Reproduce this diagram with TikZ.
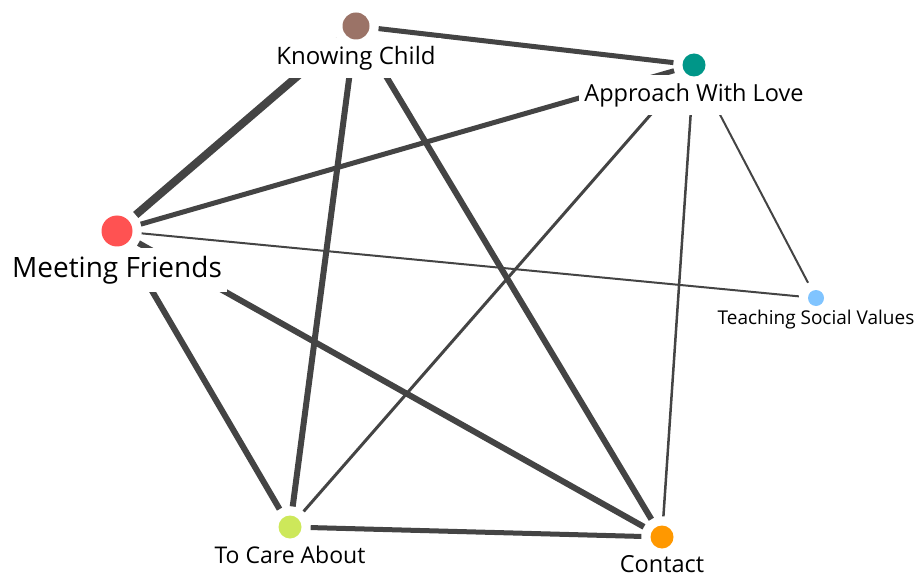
\documentclass[tikz,border=0pt]{standalone}
\usepackage{fontspec}
\setmainfont{Open Sans}
\usepackage{xcolor}
\definecolor{myBrown}{RGB}{155,115,103}
\definecolor{myTeal}{RGB}{0,150,136}
\definecolor{myRed}{RGB}{255,82,82}
\definecolor{myBlue}{RGB}{128,196,255}
\definecolor{myLime}{RGB}{205,232,90}
\definecolor{myOrange}{RGB}{255,152,0}
\definecolor{linkGray}{RGB}{68,68,68}
\pgfdeclarelayer{back}
\pgfsetlayers{back,main}
\tikzset{
  vertex/.style={circle, inner sep=0pt},
  vlabel/.style={fill=white, inner xsep=5pt, inner ysep=8pt, text=black},
  link/.style={draw=linkGray, shorten >=9pt, shorten <=9pt},
}

\begin{document}
\begin{tikzpicture}[x=1pt, y=-1pt]
\useasboundingbox (0,0) rectangle (915,577);

%%%%%%%%%%%%%%%%%%%%%%%%%%%%%%%%%%%%%%%%%%%%%%%%%%%%%%%%%%%%%% Vertices
\node[vertex, fill=myBrown, minimum size=27pt] (KnowChild) at (356,26) {};
\node[vertex, fill=myTeal, minimum size=23pt] (ApprLove) at (694,65) {};
\node[vertex, fill=myRed, minimum size=31pt] (MeetFriends) at (117,231) {};
\node[vertex, fill=myBlue, minimum size=16pt] (TeachValues) at (816,298) {};
\node[vertex, fill=myLime, minimum size=23pt] (CareAbout) at (290,527) {};
\node[vertex, fill=myOrange, minimum size=23pt] (Contact) at (662,537) {};

\begin{pgfonlayer}{back}
%%%%%%%%%%%%%%%%%%%%%%%%%%%%%%%%%%%%%%%%%%%%%%%%%%%%%%%%%%%%%% Links
\draw[link, line width=8pt] (KnowChild) -- (MeetFriends);
\draw[link, line width=5pt] (KnowChild) -- (ApprLove);
\draw[link, line width=6pt] (KnowChild) -- (CareAbout);
\draw[link, line width=6pt] (KnowChild) -- (Contact);
\draw[link, line width=5pt] (MeetFriends) -- (ApprLove);
\draw[link, line width=2pt] (MeetFriends) -- (TeachValues);
\draw[link, line width=6pt] (MeetFriends) -- (CareAbout);
\draw[link, line width=6pt] (MeetFriends) -- (Contact);
\draw[link, line width=3pt] (ApprLove) -- (CareAbout);
\draw[link, line width=2.5pt] (ApprLove) -- (Contact);
\draw[link, line width=2pt] (ApprLove) -- (TeachValues);
\draw[link, line width=5pt] (CareAbout) -- (Contact);

%%%%%%%%%%%%%%%%%%%%%%%%%%%%%%%%%%%%%%%%%%%%%%%%%%%%%%%%%%%%%% Labels
\node[vlabel, font=\fontsize{24}{28}\selectfont] (KnowChildL) at (356,58) {Knowing Child};
\node[vlabel, font=\fontsize{23.5}{28}\selectfont] (ApprLoveL) at (694,95) {Approach With Love};
\node[vlabel, font=\fontsize{28}{32}\selectfont] (MeetFriendsL) at (117,270) {Meeting Friends};
\node[vlabel, font=\fontsize{19}{22}\selectfont] (TeachValuesL) at (816,320) {Teaching Social Values};
\node[vlabel, font=\fontsize{23}{27}\selectfont] (CareAboutL) at (290,555) {To Care About};
\node[vlabel, font=\fontsize{23.5}{28}\selectfont] (ContactL) at (662,564) {Contact};
\end{pgfonlayer}

\end{tikzpicture}
\end{document}
